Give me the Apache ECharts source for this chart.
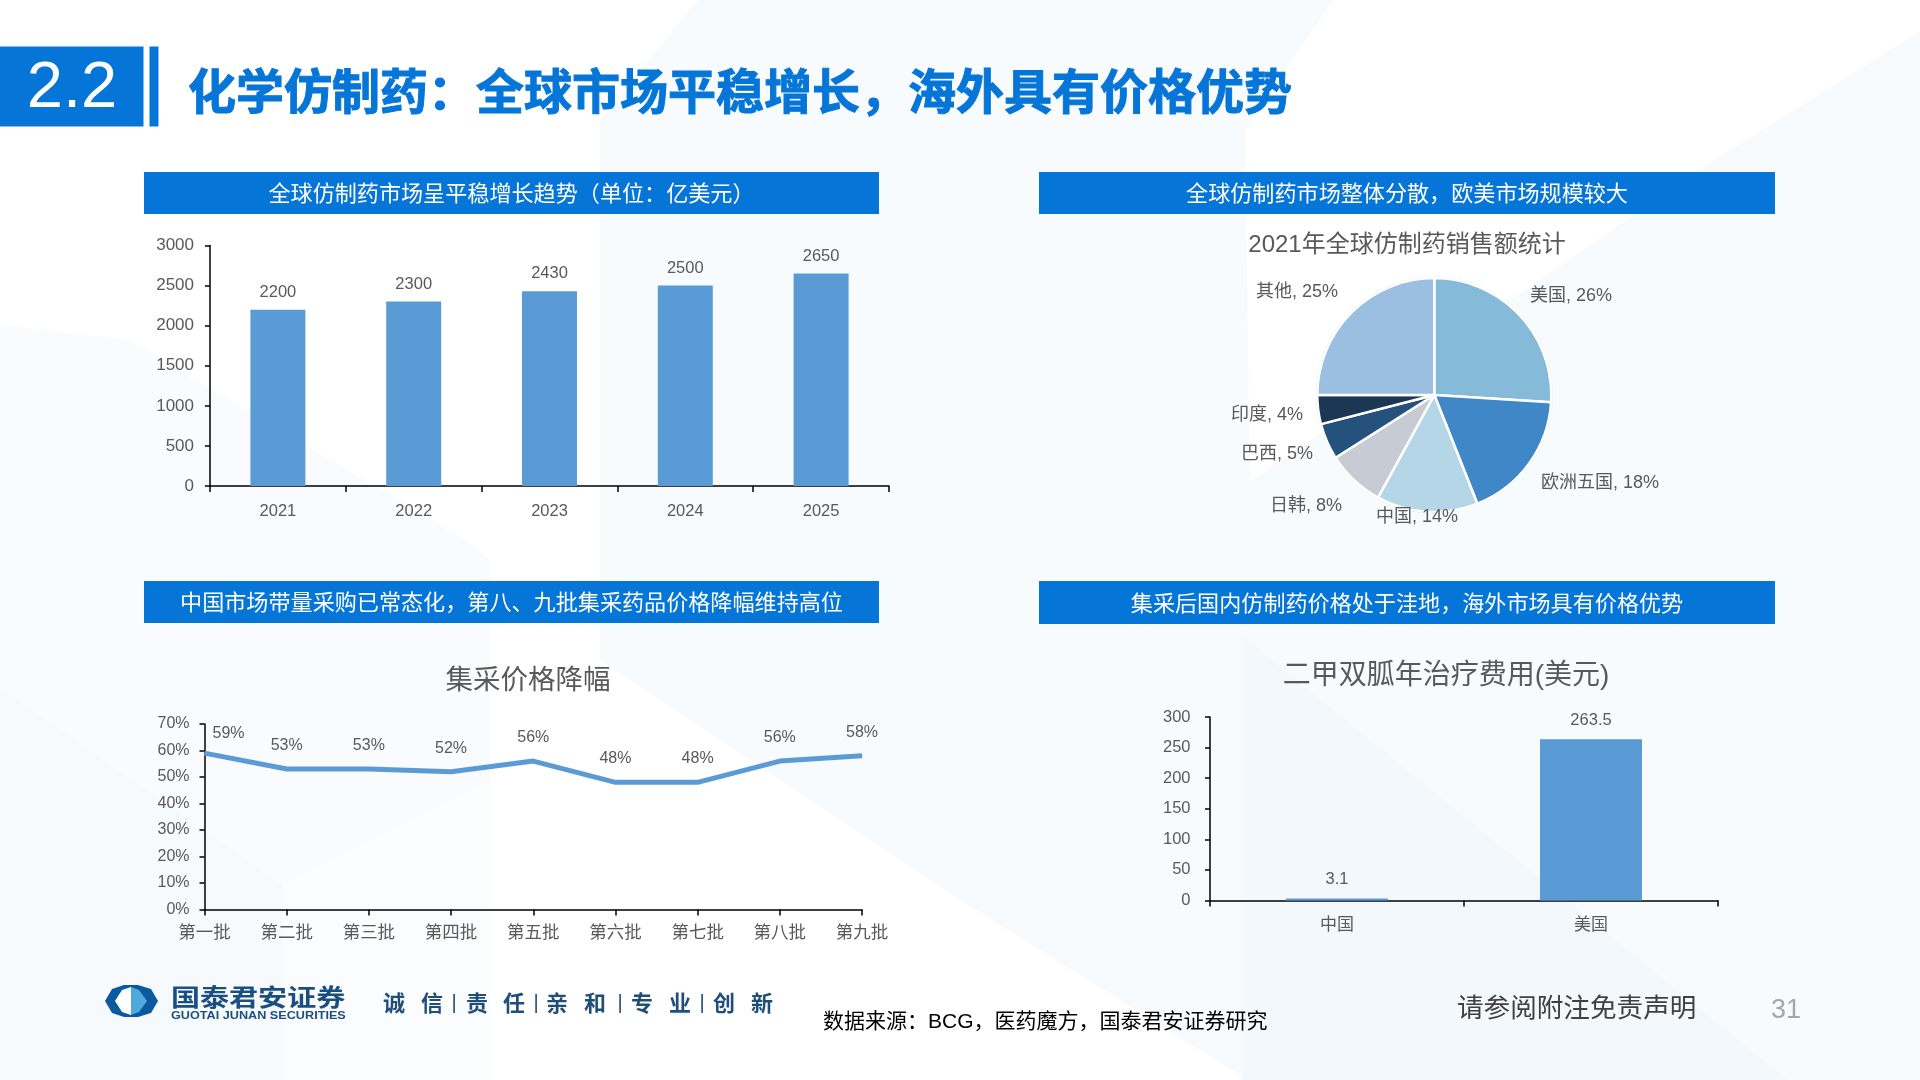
<!DOCTYPE html>
<html>
<head>
<meta charset="utf-8">
<title>化学仿制药</title>
<style>
  html, body { margin: 0; padding: 0; background: #fff; }
  #chart { width: 1920px; height: 1080px; }
</style>
<script src="https://cdn.jsdelivr.net/npm/echarts@6/dist/echarts.min.js"></script>
</head>
<body>
<div id="chart"></div>
<script>
const FONT = '"Liberation Sans", "Noto Sans CJK SC", sans-serif';
const CJK = '"Noto Sans CJK SC", sans-serif';
const BLUE = "#0576D8";
const BAR_BLUE = "#5B9BD5";
const GREY = "#595959";

const marketYears = ["2021", "2022", "2023", "2024", "2025"];
const marketValues = [2200, 2300, 2430, 2500, 2650];

const pieNames = ["美国", "欧洲五国", "中国", "日韩", "巴西", "印度", "其他"];
const pieValues = [26, 18, 14, 8, 5, 4, 25];
const pieColors = ["#85BBD8", "#3F87C6", "#B4D6E7", "#C7CCD4", "#25527C", "#1C3754", "#9BBFE0"];
const pieLabelPos = [[1571, 296], [1600, 483], [1417, 517], [1306, 506], [1277, 454], [1267, 415], [1297, 292]];

const batchNames = ["第一批", "第二批", "第三批", "第四批", "第五批", "第六批", "第七批", "第八批", "第九批"];
const batchCuts = [59, 53, 53, 52, 56, 48, 48, 56, 58];

const drugRegions = ["中国", "美国"];
const drugCosts = [3.1, 263.5];

const bannerTexts = [
  "全球仿制药市场呈平稳增长趋势（单位：亿美元）",
  "全球仿制药市场整体分散，欧美市场规模较大",
  "中国市场带量采购已常态化，第八、九批集采药品价格降幅维持高位",
  "集采后国内仿制药价格处于洼地，海外市场具有价格优势",
];
const sloganChars = [
  ["诚", 394], ["信", 432], ["|", 454], ["责", 477], ["任", 514], ["|", 536], ["亲", 557],
  ["和", 595], ["|", 620], ["专", 642], ["业", 680], ["|", 702], ["创", 724], ["新", 762],
];

function poly(points, fill, z) {
  return { type: "polygon", silent: true, z: z === undefined ? -10 : z, shape: { points }, style: { fill } };
}

function rect(x, y, width, height, fill) {
  return { type: "rect", silent: true, z: 1, shape: { x, y, width, height }, style: { fill } };
}

function label(text, x, y, font, fill, align) {
  return {
    type: "text",
    silent: true,
    z: 10,
    style: { text, x, y, font, fill, textAlign: align || "center", textVerticalAlign: "middle" },
  };
}

// wide logo lettering: the picture stretches these horizontally
function stretched(text, x, y, font, fill, scaleX) {
  const el = label(text, 0, 0, font, fill, "left");
  el.x = x;
  el.y = y;
  el.scaleX = scaleX;
  return el;
}

function backgroundShapes() {
  return [
    poly([[698, 0], [600, 120], [600, 660], [960, 900], [1248, 1080], [1920, 1080], [1920, 0]], "#F8FBFE"),
    poly([[1333, 0], [1920, 0], [1920, 31], [1695, 172], [1250, 482], [1245, 130]], "#FFFFFF", -9),
    poly([[1242, 636], [1787, 1080], [1242, 1080]], "#F3F8FD", -9),
    poly([[0, 325], [130, 340], [170, 365], [465, 540], [490, 560], [490, 780], [282, 885], [0, 688]], "#F9FBFE", -8),
    poly([[0, 688], [282, 885], [282, 1080], [0, 1080]], "#F6FAFD", -8),
    poly([[282, 885], [490, 780], [490, 1080], [282, 1080]], "#FBFCFE", -8),
  ];
}

function logoShapes() {
  return [
    poly([[105, 1001], [112, 989], [124, 985], [138, 985], [151, 989], [158, 1001], [151, 1013], [138, 1017], [124, 1017], [112, 1013]], "#0C5A9E", 5),
    poly([[115, 1001], [122, 990], [131, 987], [131, 1015], [122, 1012]], "#FFFFFF", 6),
    poly([[131, 987], [139, 990], [147, 1001], [139, 1012], [131, 1015]], "#4EA9DC", 6),
  ];
}

function buildGraphics() {
  const elements = backgroundShapes();
  elements.push(rect(0, 46.5, 143.5, 80, BLUE));
  elements.push(rect(149.5, 46.5, 9, 80, BLUE));
  elements.push(label("2.2", 72, 89, `65px ${FONT}`, "#FFFFFF"));
  const heading = label("化学仿制药：全球市场平稳增长，海外具有价格优势", 188, 91, `bold 48px ${CJK}`, BLUE, "left");
  heading.style.stroke = BLUE;
  heading.style.lineWidth = 1;
  elements.push(heading);

  const bannerBoxes = [[144, 172, 735, 42], [1039, 172, 736, 42], [144, 581, 735, 42], [1039, 581, 736, 43]];
  bannerBoxes.forEach((box, index) => {
    elements.push(rect(box[0], box[1], box[2], box[3], BLUE));
    elements.push(label(bannerTexts[index], box[0] + box[2] / 2, box[1] + box[3] / 2, `22.1px ${CJK}`, "#FFFFFF"));
  });

  elements.push({
    type: "circle",
    silent: true,
    z: 0,
    shape: { cx: 1434.3, cy: 395, r: 118 },
    style: { fill: "none", stroke: "#E2E6EA", lineWidth: 1 },
  });

  elements.push(...logoShapes());
  elements.push(stretched("国泰君安证券", 171, 997, `bold 24px ${CJK}`, "#1B4F82", 1.21));
  elements.push(stretched("GUOTAI JUNAN SECURITIES", 171, 1016, `bold 11.5px ${FONT}`, "#1B4F82", 1.1));
  sloganChars.forEach((item) => {
    const isBar = item[0] === "|";
    elements.push(label(item[0], item[1], 1003, isBar ? `20px ${FONT}` : `bold 22px ${CJK}`, "#1F4E79"));
  });

  elements.push(label("数据来源：BCG，医药魔方，国泰君安证券研究", 823, 1022, `21px ${FONT}`, "#000000", "left"));
  elements.push(label("请参阅附注免责声明", 1457, 1007, `26.6px ${CJK}`, "#404040", "left"));
  elements.push(label("31", 1786, 1011, `27px ${FONT}`, "#A6A6A6"));
  return elements;
}

function categoryAxis(gridIndex, data, fontSize, margin, boundaryGap) {
  return {
    type: "category",
    gridIndex,
    data,
    boundaryGap,
    axisLine: { lineStyle: { color: "#000000", width: 1.5 } },
    axisTick: { show: true, length: 6, alignWithLabel: !boundaryGap, lineStyle: { color: "#000000", width: 1.5 } },
    axisLabel: { color: GREY, fontSize, fontFamily: FONT, margin, interval: 0 },
  };
}

function valueAxis(gridIndex, max, interval, fontSize, margin, formatter) {
  return {
    type: "value",
    gridIndex,
    min: 0,
    max,
    interval,
    splitLine: { show: false },
    axisLine: { show: true, lineStyle: { color: "#000000", width: 1.5 } },
    axisTick: { show: true, length: 5, lineStyle: { color: "#000000", width: 1.5 } },
    axisLabel: { color: GREY, fontSize, fontFamily: FONT, margin, formatter, padding: [6, 0, 0, 0] },
  };
}

function chartTitle(text, x, top, fontSize) {
  return {
    text,
    left: x,
    top,
    textAlign: "center",
    textStyle: { color: GREY, fontSize, fontWeight: "normal", fontFamily: FONT },
    padding: 0,
  };
}

function barSeries(index, values, barWidth, distance, fontSize) {
  return {
    type: "bar",
    xAxisIndex: index,
    yAxisIndex: index,
    data: values,
    barWidth,
    itemStyle: { color: BAR_BLUE },
    label: { show: true, position: "top", distance, color: GREY, fontSize, fontFamily: FONT },
  };
}

const chart = echarts.init(document.getElementById("chart"), null, { renderer: "canvas" });
chart.setOption({
  animation: false,
  backgroundColor: "#FFFFFF",
  title: [
    chartTitle("2021年全球仿制药销售额统计", 1407, 233, 24),
    chartTitle("集采价格降幅", 528, 668, 27.5),
    chartTitle("二甲双胍年治疗费用(美元)", 1446, 662, 28),
  ],
  grid: [
    { left: 210, top: 245.5, width: 679, height: 240.5 },
    { left: 204.5, top: 724, width: 657.5, height: 185.5 },
    { left: 1210, top: 717, width: 508, height: 183.5 },
  ],
  xAxis: [
    categoryAxis(0, marketYears, 16.5, 17, true),
    categoryAxis(1, batchNames, 17.5, 15, false),
    categoryAxis(2, drugRegions, 17, 16, true),
  ],
  yAxis: [
    valueAxis(0, 3000, 500, 17, 16, (value) => String(value)),
    valueAxis(1, 70, 10, 16, 15, "{value}%"),
    valueAxis(2, 300, 50, 16.5, 19.5, (value) => String(value)),
  ],
  series: [
    barSeries(0, marketValues, 55, 9, 16.5),
    {
      type: "line",
      xAxisIndex: 1,
      yAxisIndex: 1,
      symbol: "circle",
      symbolSize: 1,
      showSymbol: true,
      showAllSymbol: true,
      itemStyle: { color: BAR_BLUE },
      lineStyle: { color: BAR_BLUE, width: 5 },
      data: batchCuts.map((value, index) => (
        index === 0 ? { value, label: { offset: [24, 4] } } : value
      )),
      label: {
        show: true,
        position: "top",
        distance: 15,
        color: GREY,
        fontSize: 16,
        fontFamily: FONT,
        formatter: "{c}%",
      },
    },
    barSeries(2, drugCosts, 102, 10.5, 16.5),
    {
      type: "pie",
      center: [1434.3, 395],
      radius: 117,
      startAngle: 90,
      clockwise: true,
      data: pieNames.map((name, index) => ({
        name,
        value: pieValues[index],
        itemStyle: { color: pieColors[index] },
      })),
      itemStyle: { borderColor: "#FFFFFF", borderWidth: 2.5 },
      label: { show: true, position: "outside", color: GREY, fontSize: 18, fontFamily: FONT, formatter: "{b}, {c}%" },
      labelLine: { show: false },
      labelLayout: (params) => {
        const pos = pieLabelPos[params.dataIndex];
        return { x: pos[0], y: pos[1], align: "center", verticalAlign: "middle" };
      },
    },
  ],
  graphic: { elements: buildGraphics() },
});
</script>
</body>
</html>
